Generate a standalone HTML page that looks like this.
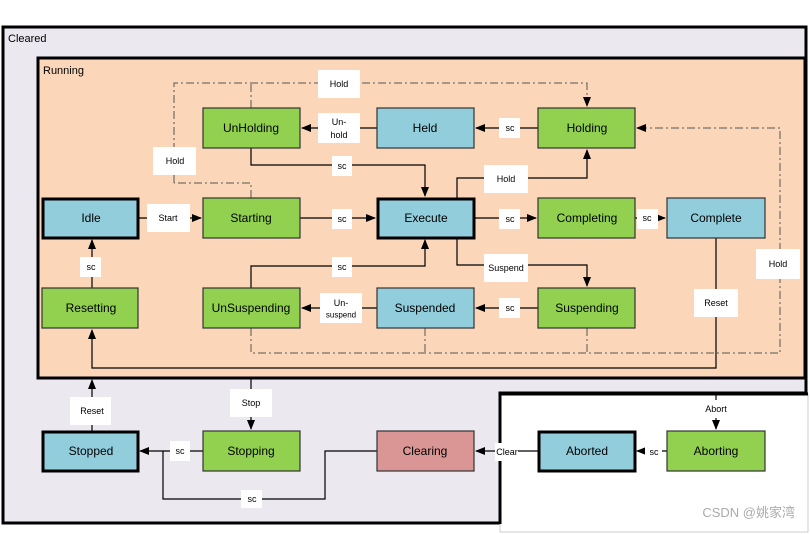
<!DOCTYPE html>
<html><head><meta charset="utf-8"><style>
html,body{margin:0;padding:0;background:#fff}
svg{display:block}
text{font-family:"Liberation Sans","DejaVu Sans",sans-serif;fill:#000}
.n{font-size:12px;text-anchor:middle;dominant-baseline:central}
.l{font-size:9px;text-anchor:middle;dominant-baseline:central}
</style></head><body>
<svg width="810" height="534" viewBox="0 0 810 534" xmlns="http://www.w3.org/2000/svg">
<defs>
<marker id="a" markerWidth="10" markerHeight="8" refX="9" refY="4" orient="auto" markerUnits="userSpaceOnUse"><path d="M0,0 L10,4 L0,8 z" fill="#000"/></marker>
</defs>
<!-- Cleared -->
<path d="M3,27 H806 V393 H500 V523 H3 Z" fill="#ebe8ef" stroke="#000" stroke-width="3"/>
<text x="8" y="39" style="font-size:11px" dominant-baseline="central">Cleared</text>
<!-- Aborted region -->
<rect x="500" y="394" width="308" height="138" fill="#fff" stroke="#ccc" stroke-width="1"/>
<path d="M500,524 V394 H808" fill="none" stroke="#000" stroke-width="3"/>
<!-- Running -->
<rect x="38" y="58" width="767" height="320" fill="#fbd6b9" stroke="#000" stroke-width="3"/>
<text x="43" y="71" style="font-size:11px" dominant-baseline="central">Running</text>

<!-- dash-dot lines -->
<g fill="none" stroke="#555" stroke-width="1" stroke-dasharray="8,3,2,3">
<path d="M174,183 V83 H587 V106" marker-end="url(#a)"/>
<path d="M251,198 V183 H174"/>
<path d="M251,108 V83"/>
<path d="M251,328 V353 H780 V128 H637" marker-end="url(#a)"/>
<path d="M425,328 V353"/>
<path d="M587,328 V353"/>
</g>

<!-- solid lines -->
<g fill="none" stroke="#000" stroke-width="1.2">
<path d="M138,218 H201" marker-end="url(#a)"/>
<path d="M300,218 H375" marker-end="url(#a)"/>
<path d="M474,218 H536" marker-end="url(#a)"/>
<path d="M635,218 H665" marker-end="url(#a)"/>
<path d="M251,148 V165 H425 V196" marker-end="url(#a)"/>
<path d="M457,198 V178 H587 V150" marker-end="url(#a)"/>
<path d="M538,128 H476" marker-end="url(#a)"/>
<path d="M377,128 H302" marker-end="url(#a)"/>
<path d="M251,288 V266 H425 V240" marker-end="url(#a)"/>
<path d="M457,238 V265 H587 V286" marker-end="url(#a)"/>
<path d="M538,308 H476" marker-end="url(#a)"/>
<path d="M377,308 H302" marker-end="url(#a)"/>
<path d="M92,288 V240" marker-end="url(#a)"/>
<path d="M716,238 V368 H92 V330" marker-end="url(#a)"/>
<path d="M92,431 V380" marker-end="url(#a)"/>
<path d="M251,378 V429" marker-end="url(#a)"/>
<path d="M203,451 H140" marker-end="url(#a)"/>
<path d="M377,451 H325 V499 H163 V451"/>
<path d="M538,451 H476" marker-end="url(#a)"/>
<path d="M667,451 H637" marker-end="url(#a)"/>
<path d="M716,393 V429" marker-end="url(#a)"/>
</g>

<!-- labels -->
<g fill="#fff">
<rect x="318" y="70" width="42" height="28"/>
<rect x="318" y="113" width="42" height="30"/>
<rect x="499" y="118" width="21" height="20"/>
<rect x="153" y="147" width="43" height="28"/>
<rect x="332" y="156" width="20" height="20"/>
<rect x="484" y="165" width="44" height="28"/>
<rect x="147" y="204" width="43" height="28"/>
<rect x="332" y="209" width="20" height="20"/>
<rect x="499" y="209" width="21" height="20"/>
<rect x="637" y="209" width="21" height="20"/>
<rect x="80" y="257" width="21" height="20"/>
<rect x="332" y="257" width="20" height="20"/>
<rect x="484" y="254" width="44" height="28"/>
<rect x="320" y="293" width="42" height="30"/>
<rect x="499" y="298" width="21" height="20"/>
<rect x="756" y="249" width="44" height="30"/>
<rect x="694" y="289" width="44" height="28"/>
<rect x="70" y="397" width="41" height="28"/>
<rect x="230" y="389" width="42" height="28"/>
<rect x="170" y="441" width="20" height="20"/>
<rect x="241" y="490" width="21" height="18"/>
<rect x="495" y="443" width="23" height="18"/>
<rect x="645" y="443" width="17" height="18"/>
<rect x="700" y="400" width="33" height="18"/>
</g>
<g class="l">
<text class="l" x="339" y="84">Hold</text>
<text class="l" x="339" y="122">Un-</text>
<text class="l" x="339" y="135">hold</text>
<text class="l" x="510" y="128">sc</text>
<text class="l" x="175" y="161">Hold</text>
<text class="l" x="342" y="166">sc</text>
<text class="l" x="506" y="179">Hold</text>
<text class="l" x="168" y="218">Start</text>
<text class="l" x="342" y="219">sc</text>
<text class="l" x="510" y="219">sc</text>
<text class="l" x="647" y="218">sc</text>
<text class="l" x="91" y="267">sc</text>
<text class="l" x="342" y="267">sc</text>
<text class="l" x="506" y="268">Suspend</text>
<text class="l" x="341" y="303">Un-</text>
<text class="l" x="341" y="315" style="font-size:8px">suspend</text>
<text class="l" x="510" y="308">sc</text>
<text class="l" x="778" y="264">Hold</text>
<text class="l" x="716" y="303">Reset</text>
<text class="l" x="92" y="411">Reset</text>
<text class="l" x="251" y="403">Stop</text>
<text class="l" x="180" y="451">sc</text>
<text class="l" x="252" y="499">sc</text>
<text class="l" x="507" y="452">Clear</text>
<text class="l" x="654" y="452">sc</text>
<text class="l" x="716" y="409">Abort</text>
</g>

<!-- nodes -->
<g stroke="#333" stroke-width="1.2">
<rect x="203" y="108" width="97" height="40" fill="#92d050"/>
<rect x="377" y="108" width="97" height="40" fill="#92cddc"/>
<rect x="538" y="108" width="97" height="40" fill="#92d050"/>
<rect x="203" y="198" width="97" height="40" fill="#92d050"/>
<rect x="538" y="198" width="97" height="40" fill="#92d050"/>
<rect x="667" y="198" width="98" height="40" fill="#92cddc"/>
<rect x="42" y="288" width="96" height="40" fill="#92d050"/>
<rect x="203" y="288" width="97" height="40" fill="#92d050"/>
<rect x="377" y="288" width="97" height="40" fill="#92cddc"/>
<rect x="538" y="288" width="97" height="40" fill="#92d050"/>
<rect x="203" y="431" width="97" height="40" fill="#92d050"/>
<rect x="377" y="431" width="97" height="40" fill="#d99694"/>
<rect x="667" y="431" width="98" height="40" fill="#92d050"/>
</g>
<g stroke="#000" stroke-width="3">
<rect x="43" y="199" width="95" height="39" fill="#92cddc"/>
<rect x="378" y="199" width="96" height="39" fill="#92cddc"/>
<rect x="43" y="432" width="95" height="39" fill="#92cddc"/>
<rect x="539" y="432" width="96" height="39" fill="#92cddc"/>
</g>
<text class="n" x="251" y="128">UnHolding</text>
<text class="n" x="425" y="128">Held</text>
<text class="n" x="587" y="128">Holding</text>
<text class="n" x="91" y="218">Idle</text>
<text class="n" x="251" y="218">Starting</text>
<text class="n" x="426" y="218">Execute</text>
<text class="n" x="587" y="218">Completing</text>
<text class="n" x="716" y="218">Complete</text>
<text class="n" x="91" y="308">Resetting</text>
<text class="n" x="251" y="308">UnSuspending</text>
<text class="n" x="425" y="308">Suspended</text>
<text class="n" x="587" y="308">Suspending</text>
<text class="n" x="91" y="451">Stopped</text>
<text class="n" x="251" y="451">Stopping</text>
<text class="n" x="425" y="451">Clearing</text>
<text class="n" x="587" y="451">Aborted</text>
<text class="n" x="716" y="451">Aborting</text>
<text x="795" y="517" style="font-size:13px;fill:#aaa;font-family:'Liberation Sans','Noto Sans CJK SC',sans-serif" text-anchor="end">CSDN @姚家湾</text>
</svg>
</body></html>
